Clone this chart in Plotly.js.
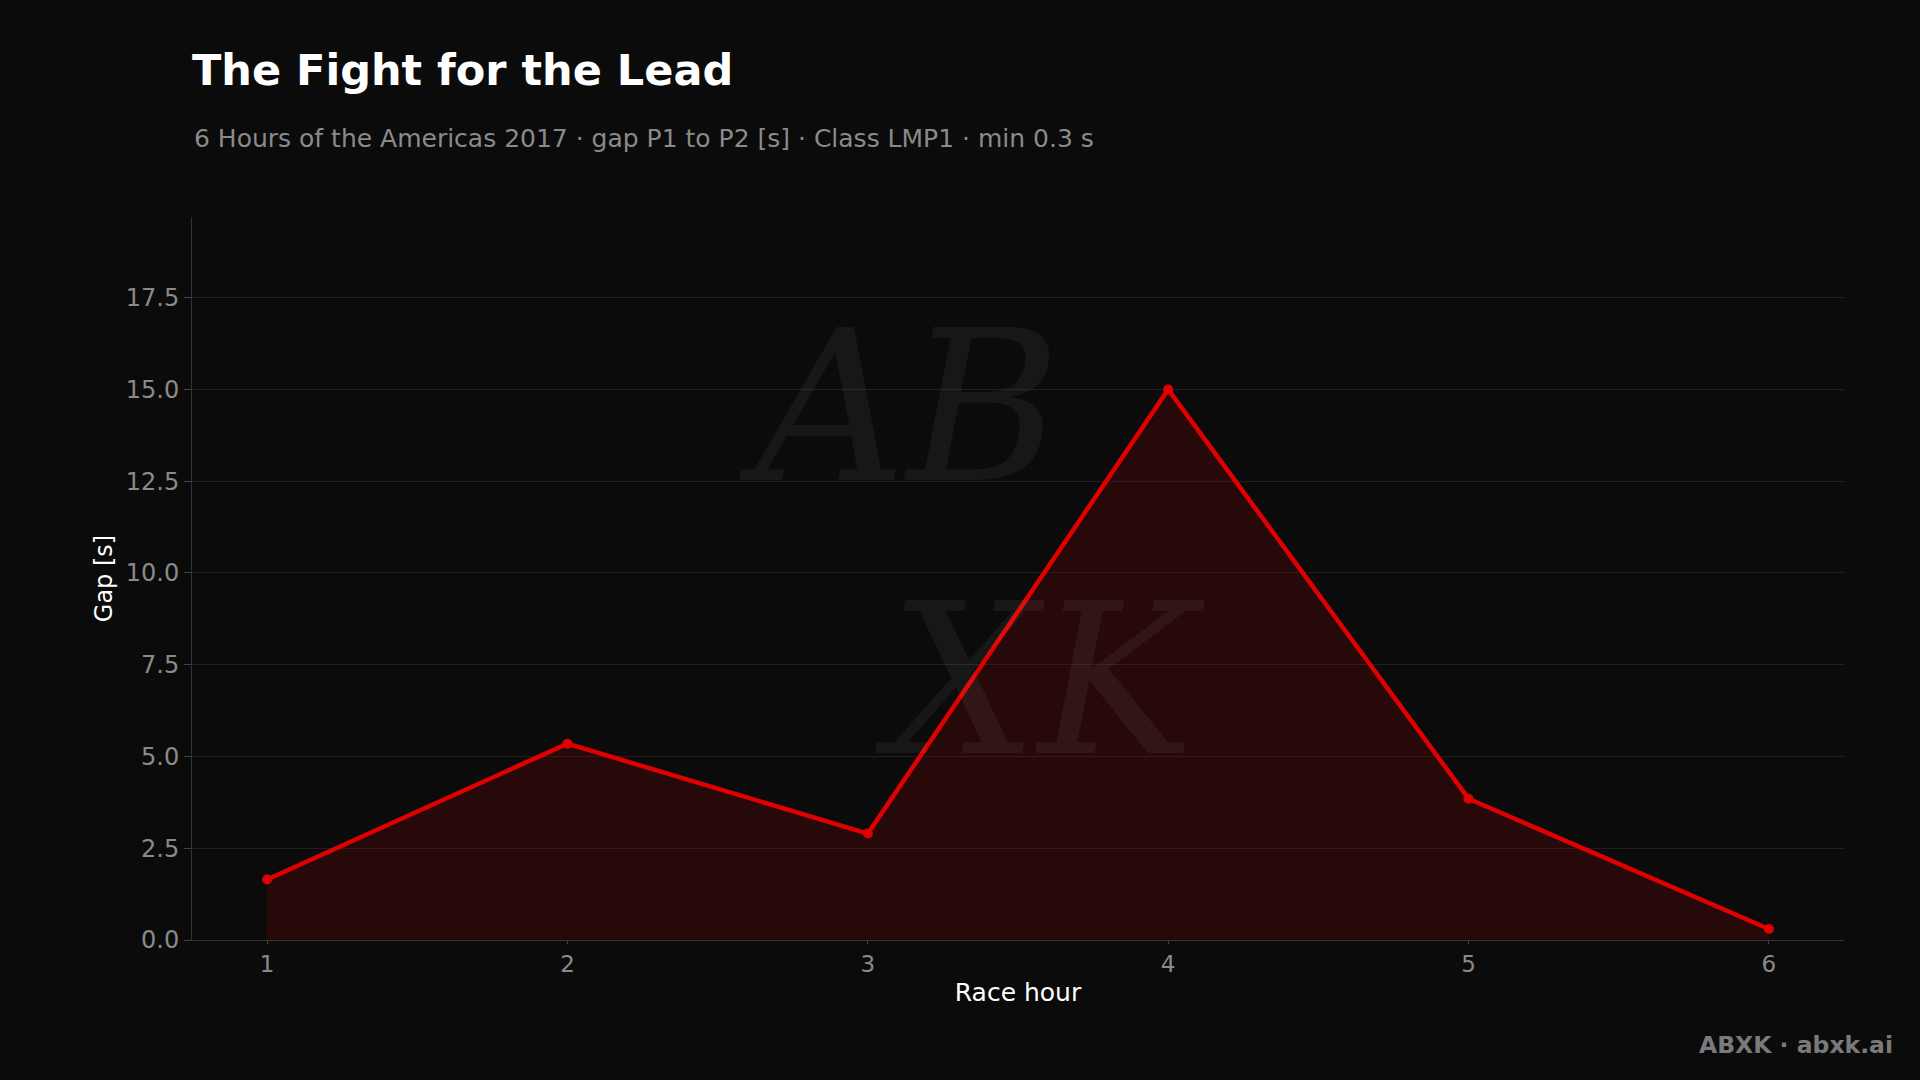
<!DOCTYPE html>
<html>
<head>
<meta charset="utf-8">
<script src="https://cdn.plot.ly/plotly-3.0.1.min.js"></script>
<style>
html,body{margin:0;padding:0;background:#0b0b0b;}
#chart{width:1920px;height:1080px;}
</style>
</head>
<body>
<div id="chart"></div>
<script>
const raceHours = [1, 2, 3, 4, 5, 6];
const gapSeconds = [1.65, 5.35, 2.9, 15.0, 3.85, 0.3];
const titleText = "The Fight for the Lead";
const subtitleText = "6 Hours of the Americas 2017 · gap P1 to P2 [s] · Class LMP1 · min 0.3 s";
const xTitle = "Race hour";
const yTitle = "Gap [s]";
const footerText = "ABXK · abxk.ai";

const font = "DejaVu Sans, sans-serif";

const trace = {
  x: raceHours,
  y: gapSeconds,
  type: "scatter",
  mode: "lines+markers",
  fill: "tozeroy",
  fillcolor: "rgba(200,0,0,0.15)",
  line: {color: "#e00000", width: 4.5},
  marker: {color: "#e00000", size: 10},
  hoverinfo: "x+y"
};

const layout = {
  width: 1920,
  height: 1080,
  paper_bgcolor: "#0b0b0b",
  plot_bgcolor: "#0b0b0b",
  margin: {l: 192, r: 76, t: 217, b: 140},
  showlegend: false,
  font: {family: font, color: "#8a8a8a", size: 24},
  title: {
    text: "<b>" + titleText + "</b>",
    font: {family: font, size: 43, color: "#ffffff"},
    x: 0, xref: "paper", xanchor: "left",
    y: 0.935, yref: "container", yanchor: "middle"
  },
  xaxis: {
    range: [0.75, 6.25],
    tickvals: raceHours,
    ticktext: raceHours.map(String),
    showgrid: false,
    zeroline: false,
    showline: true,
    linecolor: "#333333",
    linewidth: 1,
    ticks: "outside",
    ticklen: 3,
    tickcolor: "#444444",
    tickfont: {family: font, size: 23, color: "#8a8a8a"},
    title: {text: xTitle, font: {family: font, size: 25, color: "#ffffff"}, standoff: 7}
  },
  yaxis: {
    range: [0, 19.7],
    tickvals: [0, 2.5, 5, 7.5, 10, 12.5, 15, 17.5],
    ticktext: ["0.0", "2.5", "5.0", "7.5", "10.0", "12.5", "15.0", "17.5"],
    showgrid: true,
    gridcolor: "#1f1f1f",
    gridwidth: 1,
    zeroline: false,
    showline: true,
    linecolor: "#333333",
    linewidth: 1,
    ticks: "outside",
    ticklen: 7,
    tickcolor: "#444444",
    tickfont: {family: font, size: 24, color: "#8a8a8a"},
    title: {text: yTitle, font: {family: font, size: 24, color: "#ffffff"}, standoff: 6}
  },
  annotations: [
    {
      text: subtitleText,
      xref: "paper", yref: "paper",
      x: 0, y: 1.109, xanchor: "left", yanchor: "middle",
      showarrow: false,
      font: {family: font, size: 25, color: "#8a8a8a"}
    },
    {
      text: "<b>" + footerText + "</b>",
      xref: "paper", yref: "paper",
      x: 1.031, y: -0.145, xanchor: "right", yanchor: "middle",
      showarrow: false,
      font: {family: font, size: 23.5, color: "#7a7a7a"}
    },
    {
      text: "<i>AB</i><br><i>  XK</i>",
      xref: "x", yref: "y",
      x: 3.35, y: 10.8, xanchor: "center", yanchor: "middle",
      align: "left",
      showarrow: false,
      font: {family: "DejaVu Serif, serif", size: 210, color: "rgba(255,255,255,0.05)"}
    }
  ]
};

Plotly.newPlot("chart", [trace], layout, {displayModeBar: false, staticPlot: true});
</script>
</body>
</html>
